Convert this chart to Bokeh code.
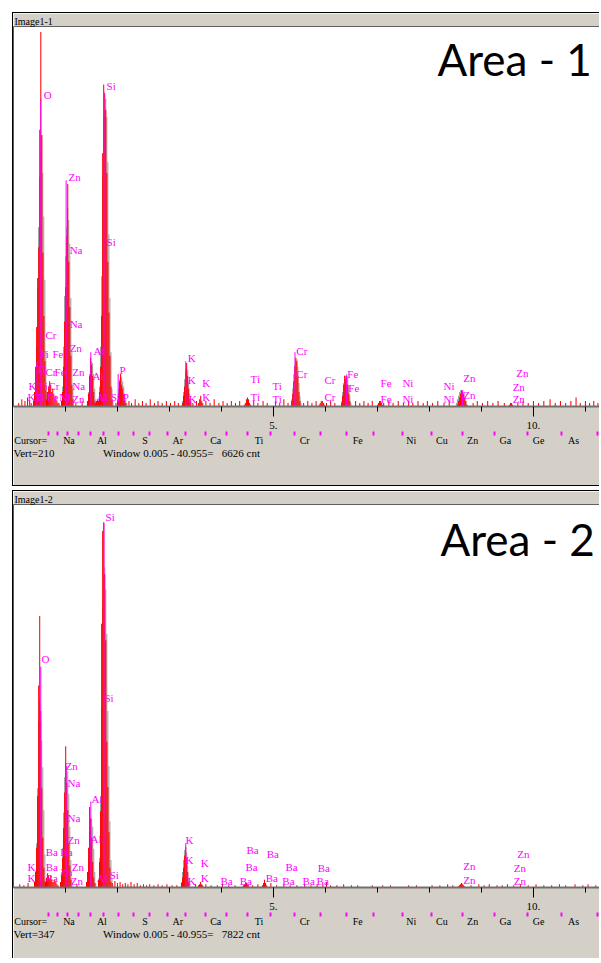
from bokeh.plotting import figure
from bokeh.models import Range1d, LinearAxis, FixedTicker, Label
from bokeh.layouts import column
from bokeh.embed import file_html
from bokeh.resources import INLINE
from bokeh.core.properties import value

# ---------------- shared settings ----------------
CH = 0.02            # channel width, keV
X_MAX = 11.29        # keV shown across the window
GRAY_BG = "#d4d0c8"
RED = "#ff0000"
SPEC_GRAY = "#a0a0a0"
MAGENTA = "#ff00ff"
SERIF = "Liberation Serif"

# element marker row (K-alpha energies, keV)
ELEMENT_KEV = [0.677, 0.849, 1.041, 1.254, 1.487, 1.740, 2.013, 2.307, 2.622, 2.957,
               3.313, 3.691, 4.090, 4.510, 4.952, 5.414, 5.898, 6.403, 6.930, 7.477,
               8.047, 8.638, 9.251, 9.885, 10.543, 11.224]
# names shown under the markers (label centres, keV); first entry is the cursor read-out
ELEM_NAMES = ["Cursor=", "Na", "Al", "S", "Ar", "Ca", "Ti", "Cr", "Fe", "Ni", "Cu", "Zn",
              "Ga", "Ge", "As"]
ELEM_NAME_KEV = [0.33, 1.067, 1.70, 2.53, 3.16, 3.89, 4.72, 5.60, 6.62, 7.65, 8.24, 8.83,
                 9.46, 10.10, 10.77]
STATUS_KEV = [0.39, 3.23]
MAJOR_TICKS = [5, 10]
MINOR_TICKS = [1, 2, 3, 4, 6, 7, 8, 9, 11]

# ---------------- panel 1 (Image1-1) ----------------
P1_TITLE = "Image1-1"
P1_VERT = 210
P1_TOTAL = 6626
P1_AREA = "Area - 1"
P1_RED_START = [0.385, 0.635, 0.923, 1.423, 1.577, 1.635, 2.0, 3.25, 3.56, 4.44,
                5.35, 5.88, 6.31, 7.0, 8.54, 9.54]
P1_RED_COUNTS = [
    [3, 8, 22, 44, 71, 88, 153, 207, 150, 85, 50, 25, 9, 3],      # O
    [4, 8, 11, 14, 12, 8, 10, 7, 4, 6, 3, 2, 2],                    # L lines
    [3, 8, 22, 47, 66, 94, 123, 80, 55, 28, 12, 4],                 # Zn L / Na
    [3, 7, 17, 27, 23, 17, 8, 3],                                   # Al
    [2, 3, 4],
    [3, 8, 22, 50, 140, 178, 173, 164, 129, 80, 52, 28, 11, 4],     # Si
    [3, 7, 14, 18, 12, 10, 7, 3, 2],                                # P
    [2, 6, 11, 19, 24, 17, 10, 4, 2],                               # K
    [2, 4, 6, 3, 2],                                                # K beta
    [1, 2, 4, 5, 4, 2, 1],                                          # Ti
    [3, 7, 14, 22, 27, 25, 17, 8, 3],                               # Cr
    [1, 2, 3, 3, 2, 1],                                             # Cr beta
    [2, 6, 12, 17, 15, 17, 12, 7, 3],                               # Fe
    [1, 2, 3, 3, 2, 1],                                             # Fe beta
    [1, 3, 5, 7, 9, 8, 7, 5, 3, 1],                                 # Zn
    [1, 2, 2, 1],                                                   # Zn beta
]
P1_GRAY_START = [0.442, 0.942, 1.442, 1.654, 2.0, 3.25, 5.35, 6.31, 8.52]
P1_GRAY_COUNTS = [
    [33, 66, 99, 127, 140, 150, 129, 105, 70, 30, 8],
    [11, 33, 61, 83, 99, 110, 103, 90, 60, 30, 10],
    [8, 18, 24, 25, 24, 18, 10, 4],
    [11, 33, 72, 127, 160, 164, 170, 160, 135, 95, 60, 30, 10, 3],
    [4, 10, 15, 17, 16, 14, 11, 7, 4, 2],
    [3, 8, 15, 21, 22, 20, 14, 7, 3],
    [4, 10, 18, 23, 26, 26, 22, 13, 6, 2],
    [3, 8, 13, 17, 17, 18, 16, 11, 6, 2],
    [2, 4, 6, 8, 9, 9, 8, 7, 5, 3, 1],
]
P1_NOISE = [(0.10, 2), (0.16, 4), (0.22, 3), (0.27, 5), (0.31, 3), (0.34, 2), (1.20, 2), (1.32, 3),
            (1.97, 2), (2.22, 3), (2.27, 2), (2.34, 4), (2.41, 2), (2.48, 3), (2.55, 2), (2.63, 4),
            (2.71, 2), (2.78, 3), (2.86, 2), (2.94, 3), (3.02, 2), (3.10, 3), (3.17, 2), (3.45, 2),
            (3.52, 3), (3.70, 3), (3.78, 2), (3.86, 4), (3.95, 2), (4.03, 3), (4.11, 2), (4.19, 3),
            (4.27, 2), (4.35, 3), (4.62, 3), (4.70, 2), (4.80, 3), (4.88, 2), (5.04, 3), (5.12, 2),
            (5.20, 4), (5.28, 2), (5.58, 2), (5.66, 3), (5.74, 2), (5.82, 3), (6.02, 2), (6.10, 3),
            (6.18, 2), (6.58, 3), (6.66, 2), (6.74, 3), (6.82, 2), (6.90, 3), (7.12, 2), (7.22, 3),
            (7.30, 2), (7.40, 3), (7.50, 2), (7.60, 3), (7.68, 2), (7.78, 3), (7.88, 2), (7.96, 3),
            (8.06, 2), (8.16, 3), (8.28, 2), (8.38, 3), (8.84, 2), (8.92, 3), (9.02, 2), (9.12, 3),
            (9.22, 2), (9.32, 3), (9.44, 2), (9.70, 2), (9.80, 3), (9.90, 2), (10.0, 3), (10.1, 2),
            (10.2, 3), (10.32, 4), (10.42, 2), (10.52, 3), (10.62, 2), (10.72, 3), (10.82, 5),
            (10.9, 2), (11.0, 3), (11.08, 2), (11.16, 3), (11.24, 2)]
P1_MARK_KEV = [0.452, 0.525, 1.012, 1.487, 1.740, 2.013, 3.313, 5.414, 6.403, 8.638]
P1_MARK_TOP = [25, 170, 125, 30, 174, 18, 25, 30, 17, 9]
P1_LBL_TEXT = ["O", "Si", "Zn", "Na", "Si", "Cr", "Na", "Ti", "Fe", "Zn",
               "Al", "Cr", "Fe", "Ti", "Zn", "Al", "P", "K", "Ti", "Cr",
               "Na", "K", "Ti", "Fe", "Ni", "Zn", "Al", "Si", "P",
               "K", "K", "K", "K", "K", "Ti", "Ti", "Ti", "Ti",
               "Cr", "Cr", "Cr", "Cr", "Fe", "Fe", "Fe", "Fe",
               "Ni", "Ni", "Ni", "Ni", "Zn", "Zn", "Zn", "Zn", "Zn"]
P1_LBL_KEV = [0.58, 1.79, 1.06, 1.08, 1.79, 0.615, 1.08, 0.5, 0.75, 1.08,
              1.54, 0.615, 0.79, 0.44, 1.13, 1.52, 2.04, 0.29, 0.48, 0.67,
              1.13, 0.27, 0.42, 0.65, 0.88, 1.13, 1.6, 1.87, 2.1,
              3.35, 3.35, 3.63, 3.37, 3.63, 4.56, 4.56, 4.98, 4.98,
              5.44, 5.44, 5.98, 5.98, 6.42, 6.44, 7.06, 7.06,
              7.48, 7.48, 8.27, 8.27, 8.65, 8.65, 9.67, 9.6, 9.6]
P1_LBL_CNT = [172, 177, 127, 86.5, 91, 39.7, 45.8, 29.2, 29.2, 32.5,
              30.9, 19.3, 19.3, 21, 19.3, 17.1, 20.4, 11.6, 11.6, 11.6,
              11.6, 5, 5, 5, 5, 4.4, 5, 5.5, 5.5,
              27, 14.9, 13.2, 4.4, 5.5, 15.4, 5.5, 11.6, 4.4,
              30.9, 18.2, 14.9, 5.5, 18.2, 10.5, 13.2, 4.4,
              13.2, 4.4, 11.6, 4.4, 16, 6.1, 18.7, 11, 4.4]

# ---------------- panel 2 (Image1-2) ----------------
P2_TITLE = "Image1-2"
P2_VERT = 347
P2_TOTAL = 7822
P2_AREA = "Area - 2"
P2_RED_START = [0.404, 0.615, 0.904, 1.404, 1.635, 3.231, 3.558, 4.423, 4.788, 8.558]
P2_RED_COUNTS = [
    [5, 14, 36, 83, 183, 246, 160, 90, 45, 18, 6],                  # O
    [5, 9, 13, 11, 8, 11, 7, 5, 5, 7, 5, 3, 2],                     # L lines
    [5, 11, 27, 54, 86, 128, 95, 70, 40, 20, 7],                    # Zn L / Na
    [5, 14, 36, 73, 63, 45, 23, 9, 4],                              # Al
    [7, 23, 69, 239, 323, 331, 284, 224, 132, 91, 50, 18, 5],       # Si
    [4, 9, 18, 29, 37, 27, 14, 5],                                  # K
    [2, 3, 5, 3, 2],                                                # K beta
    [2, 3, 5, 4, 3, 2],                                             # Ba L
    [2, 4, 7, 4, 2],                                                # Ba L
    [1, 2, 3, 4, 3, 2, 1],                                          # Zn
]
P2_GRAY_START = [0.423, 0.923, 1.423, 1.654, 3.231]
P2_GRAY_COUNTS = [
    [15, 40, 90, 150, 170, 150, 133, 109, 70, 30, 8],
    [14, 36, 68, 100, 113, 110, 105, 85, 55, 25, 7],
    [11, 27, 50, 61, 62, 55, 35, 14, 4],
    [27, 82, 163, 254, 284, 290, 270, 230, 160, 110, 60, 25, 8, 2],
    [5, 14, 25, 34, 36, 32, 20, 9, 3],
]
P2_NOISE = [(0.12, 3), (0.2, 2), (0.28, 4), (1.22, 3), (1.9, 4), (1.95, 6), (2.0, 4), (2.05, 5),
            (2.1, 3), (2.15, 4), (2.2, 3), (2.26, 5), (2.32, 3), (2.38, 4), (2.44, 2), (2.5, 3),
            (2.56, 2), (2.62, 3), (2.7, 2), (2.78, 3), (2.86, 2), (2.95, 3), (3.05, 2), (3.14, 2),
            (3.5, 3), (3.7, 3), (3.8, 2), (3.92, 2), (4.02, 3), (4.14, 2), (4.26, 2), (4.6, 2),
            (4.7, 3), (4.95, 4), (5.06, 2), (5.2, 3), (5.32, 2), (5.45, 2), (5.6, 3), (5.72, 2),
            (5.84, 3), (5.95, 3), (6.02, 5), (6.1, 2), (6.22, 2), (6.35, 3), (6.5, 2), (6.62, 2),
            (6.9, 2), (7.1, 2), (7.25, 2), (7.6, 2), (7.75, 2), (8.05, 2), (8.2, 2), (8.35, 3),
            (8.45, 2), (8.8, 2), (8.95, 3), (9.05, 2), (9.15, 3), (9.3, 2), (9.4, 2), (9.5, 3),
            (9.62, 2), (9.75, 3), (9.9, 2), (10.05, 3), (10.2, 2), (10.35, 2), (10.5, 3),
            (10.62, 2), (10.8, 3), (10.95, 2), (11.05, 3), (11.2, 2)]
P2_MARK_KEV = [0.525, 1.012, 1.487, 1.740, 3.313]
P2_MARK_TOP = [200, 110, 78, 330, 40]
P2_LBL_TEXT = ["Si", "O", "Si", "Zn", "Na", "Al", "Na", "Al", "Zn", "Ba",
               "Ba", "K", "Ba", "Zn", "Zn", "K", "Ba", "Zn", "Al", "Si",
               "K", "K", "K", "K", "K",
               "Ba", "Ba", "Ba", "Ba", "Ba", "Ba", "Ba", "Ba", "Ba", "Ba", "Ba",
               "Zn", "Zn", "Zn", "Zn", "Zn"]
P2_LBL_KEV = [1.77, 0.54, 1.75, 1.0, 1.04, 1.5, 1.04, 1.48, 1.04, 0.62,
              0.9, 0.27, 0.62, 1.12, 0.9, 0.27, 0.62, 1.1, 1.6, 1.85,
              3.31, 3.31, 3.6, 3.35, 3.6,
              3.98, 4.35, 4.48, 4.46, 4.87, 4.85, 5.17, 5.23, 5.85, 5.56, 5.83,
              8.65, 8.65, 9.69, 9.62, 9.62]
P2_LBL_CNT = [336, 207, 172, 110, 95, 80, 63, 43.5, 42.6, 32.6,
              32.6, 19, 19, 19, 13.6, 8.2, 8.2, 6.3, 8.2, 10.9,
              42.6, 24.5, 22.6, 6.3, 8.2,
              6.3, 6.3, 34.4, 19, 30.8, 8.2, 6.3, 19, 18.1, 6.3, 6.3,
              19.9, 7.2, 30.8, 18.1, 6.3]


def channels(starts, counts):
    xs, ys = [], []
    for s, cs in zip(starts, counts):
        for i, c in enumerate(cs):
            xs.append(round(s + i * CH, 4))
            ys.append(c)
    return xs, ys


def text_axis(ticks, labels, size, standoff):
    """An axis with no line and no ticks, used as a row of text under the frame."""
    return LinearAxis(ticker=FixedTicker(ticks=ticks, minor_ticks=[]),
                      major_label_overrides=dict(zip(ticks, labels)),
                      axis_line_color=None, major_tick_line_color=None,
                      major_tick_in=0, major_tick_out=0,
                      minor_tick_line_color=None,
                      major_label_text_font=SERIF, major_label_text_font_size=size,
                      major_label_text_color="black", major_label_standoff=standoff)


def build_panel(title, vert, total, area, y_max, frame_h, bottom_h, area_x, area_y,
                red_start, red_counts, gray_start, gray_counts, noise,
                mark_kev, mark_top, lbl_text, lbl_kev, lbl_cnt, styles):
    p = figure(width=587, height=12 + frame_h + bottom_h,
               x_range=Range1d(0, X_MAX), y_range=Range1d(0, y_max),
               x_axis_type=None, y_axis_type=None,
               output_backend="svg", toolbar_location=None,
               min_border_left=0, min_border_right=0,
               min_border_top=12, min_border_bottom=bottom_h,
               border_fill_color=GRAY_BG, background_fill_color="white",
               outline_line_color="#606060", styles=styles)

    p.title.text = title
    p.title.text_font = SERIF
    p.title.text_font_size = "10px"
    p.title.text_font_style = "normal"
    p.title.text_color = "black"
    p.title.align = "left"
    p.title.offset = 1
    p.title.standoff = 0

    gx, gy = channels(gray_start, gray_counts)
    p.vbar(x=gx, top=gy, bottom=0, width=CH, fill_color=SPEC_GRAY, line_color=None)
    rx, ry = channels(red_start, red_counts)
    p.vbar(x=rx, top=ry, bottom=0, width=CH, fill_color=RED, line_color=None)
    p.vbar(x=[n[0] for n in noise], top=[n[1] for n in noise], bottom=0, width=CH,
           fill_color=RED, line_color=None)
    p.segment(x0=mark_kev, y0=[0] * len(mark_kev), x1=mark_kev, y1=mark_top,
              line_color=MAGENTA, line_width=1)
    p.text(x=lbl_kev, y=lbl_cnt, text=lbl_text, text_color=MAGENTA,
           text_font=value(SERIF), text_font_size="11px",
           text_align="left", text_baseline="middle")

    ax = LinearAxis(ticker=FixedTicker(ticks=MAJOR_TICKS, minor_ticks=MINOR_TICKS),
                    major_label_overrides={5: "5.", 10: "10."},
                    axis_line_color="#707070", axis_line_width=2,
                    major_tick_in=0, major_tick_out=10, minor_tick_in=0, minor_tick_out=5,
                    major_tick_line_color="black", minor_tick_line_color="black",
                    major_label_text_font=SERIF, major_label_text_font_size="11px",
                    major_label_text_color="black", major_label_standoff=5)
    p.add_layout(ax, "below")
    eax = LinearAxis(ticker=FixedTicker(ticks=ELEMENT_KEV, minor_ticks=[]),
                     major_label_overrides={k: "" for k in ELEMENT_KEV},
                     axis_line_color=None, major_tick_in=0, major_tick_out=4,
                     major_tick_line_color=MAGENTA, major_tick_line_width=2,
                     minor_tick_line_color=None,
                     major_label_text_font_size="2px", major_label_standoff=0)
    p.add_layout(eax, "below")
    p.add_layout(text_axis(ELEM_NAME_KEV, ELEM_NAMES, "10px", -1), "below")
    p.add_layout(text_axis(STATUS_KEV,
                           [f"Vert={vert}", f"Window 0.005 - 40.955=\u00a0\u00a0\u00a0{total} cnt"],
                           "11px", -2), "below")

    p.add_layout(Label(x=area_x, y=area_y, x_units="screen", y_units="screen",
                       text=area, text_font="Lato", text_font_size="44px",
                       text_color="black", text_baseline="middle"))
    return p


p1 = build_panel(P1_TITLE, P1_VERT, P1_TOTAL, P1_AREA, 210, 381, 81, 424, 348,
                 P1_RED_START, P1_RED_COUNTS, P1_GRAY_START, P1_GRAY_COUNTS, P1_NOISE,
                 P1_MARK_KEV, P1_MARK_TOP, P1_LBL_TEXT, P1_LBL_KEV, P1_LBL_CNT,
                 {"border-left": "1px solid black", "border-top": "1px solid black",
                  "border-bottom": "1px solid black"})
p2 = build_panel(P2_TITLE, P2_VERT, P2_TOTAL, P2_AREA, 347, 384, 72, 427, 349,
                 P2_RED_START, P2_RED_COUNTS, P2_GRAY_START, P2_GRAY_COUNTS, P2_NOISE,
                 P2_MARK_KEV, P2_MARK_TOP, P2_LBL_TEXT, P2_LBL_KEV, P2_LBL_CNT,
                 {"border-left": "1px solid black", "border-top": "1px solid black"})

layout = column(p1, p2, spacing=4, margin=(12, 0, 0, 12))
open("out.html", "w").write(file_html(layout, INLINE))
